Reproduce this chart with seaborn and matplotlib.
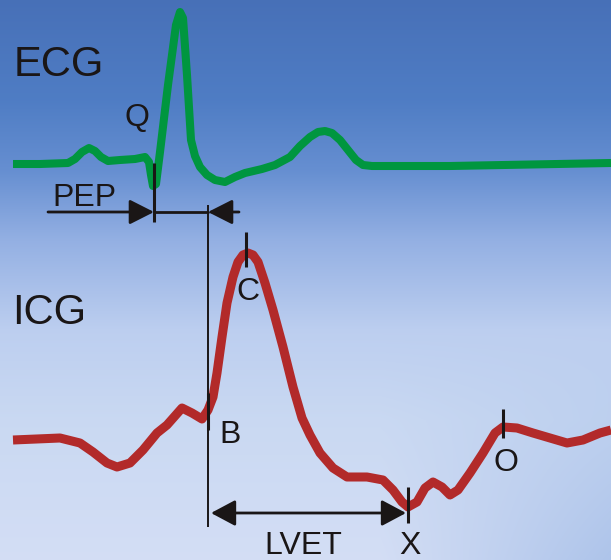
import numpy as np
import pandas as pd
import seaborn as sns
from matplotlib import pyplot as plt

# curve samples (pixel units, y grows downwards)
ecg_x = [13, 40, 68, 75, 82, 89, 95, 101, 108, 120, 135, 145, 149, 151, 153, 156,
         160, 168, 176, 180, 183, 187, 191, 195, 200, 207, 215, 225, 235, 245, 262,
         275, 290, 300, 310, 318, 325, 332, 340, 348, 356, 363, 372, 450, 611]
ecg_y = [164, 164, 163, 159, 152, 148, 151, 157, 161, 160, 159, 157, 162, 175, 186, 184,
         152, 85, 25, 12, 18, 75, 140, 156, 167, 175, 180, 182, 177, 173, 169,
         165, 157, 146, 137, 132, 131, 133, 140, 150, 160, 165, 166, 166, 163]

icg_x = [13, 60, 80, 93, 107, 117, 130, 143, 157, 167, 182, 192, 202, 208, 213, 217,
         222, 227, 233, 238, 243, 248, 253, 258, 265, 273, 283, 293, 302, 310, 320,
         333, 347, 367, 383, 393, 402, 408, 417, 425, 433, 442, 450, 458, 470, 483,
         495, 503, 517, 533, 550, 567, 583, 600, 611]
icg_y = [440, 438, 443, 452, 463, 467, 463, 450, 433, 425, 408, 413, 419, 410, 397, 373,
         337, 303, 277, 262, 255, 253, 255, 262, 283, 310, 347, 387, 418, 435, 453,
         468, 477, 477, 480, 490, 502, 507, 502, 488, 482, 487, 495, 490, 473, 453,
         433, 427, 428, 433, 438, 443, 440, 433, 430]

# event ticks on the curves: label, x, y top, y bottom
event_names = ['Q', 'C', 'B', 'X', 'O']
event_x = [154, 246, 208, 408, 503]
event_top = [163, 232, 393, 487, 409]
event_bottom = [222, 267, 430, 523, 438]

df_ecg = pd.DataFrame({'x': ecg_x, 'y': ecg_y})
df_icg = pd.DataFrame({'x': icg_x, 'y': icg_y})

sns.set_style('white')
plt.rcParams['font.family'] = ['Liberation Sans', 'DejaVu Sans']

fig = plt.figure(figsize=(6.11, 5.6), dpi=100)
ax = fig.add_axes([0, 0, 1, 1])

# background gradient
W, H = 611, 560
yy, xx = np.mgrid[0:H, 0:W]
stops_y = [0, 100, 170, 240, 330, 420, 560]
stops_c = np.array([[0.28, 0.44, 0.72], [0.31, 0.49, 0.77], [0.40, 0.56, 0.82],
                    [0.58, 0.69, 0.89], [0.74, 0.81, 0.94], [0.79, 0.85, 0.95],
                    [0.83, 0.87, 0.96]])
img = np.stack([np.interp(yy, stops_y, stops_c[:, k]) for k in range(3)], axis=-1)
w = np.clip((xx - 380) / 231, 0, 1) * np.clip((yy - 330) / 230, 0, 1) * 0.6
right_c = np.array([0.58, 0.70, 0.89])
img = img * (1 - w[..., None]) + right_c * w[..., None]
ax.imshow(img, extent=[0, W, H, 0], aspect='auto', zorder=0)

sns.lineplot(data=df_ecg, x='x', y='y', sort=False, color='#00963f', lw=5.8,
             solid_joinstyle='round', solid_capstyle='butt', ax=ax, zorder=3)
sns.lineplot(data=df_icg, x='x', y='y', sort=False, color='#b22a2a', lw=6.5,
             solid_joinstyle='round', solid_capstyle='butt', ax=ax, zorder=3)

ink = '#1a1616'
# long guide line through B
ax.vlines(208, 205, 527, color=ink, lw=1.4, zorder=4)
ax.vlines(event_x, event_top, event_bottom, color=ink, lw=2.2, zorder=5)

arrow = dict(arrowstyle='-|>,head_length=0.75,head_width=0.38', color=ink, lw=2,
             shrinkA=0, shrinkB=0, mutation_scale=20)
# PEP
ax.annotate('', xy=(154, 212), xytext=(48, 212), arrowprops=arrow, zorder=5)
ax.plot([154, 208], [212, 212], color=ink, lw=2, zorder=5)
ax.annotate('', xy=(208, 212), xytext=(239, 212), arrowprops=arrow, zorder=5)
# LVET
arrow2 = dict(arrow, arrowstyle='<|-|>,head_length=0.75,head_width=0.4')
ax.annotate('', xy=(406, 513), xytext=(211, 513), arrowprops=arrow2, zorder=5)

big = dict(color=ink, fontsize=30, va='baseline', ha='left')
ax.text(14, 76, 'ECG', **big)
ax.text(12, 324, 'ICG', **big)
small = dict(color=ink, fontsize=23, va='baseline', ha='center')
ax.text(84, 206, 'PEP', **small)
ax.text(303, 554, 'LVET', **small)
label_x = [137, 248, 230, 410, 506]
label_base = [126, 300, 443, 554, 471]
for name, lx, ly in zip(event_names, label_x, label_base):
    ax.text(lx, ly, name, **small)

ax.set_xlim(0, W)
ax.set_ylim(H, 0)
ax.axis('off')
fig.savefig('out.png', dpi=100)
